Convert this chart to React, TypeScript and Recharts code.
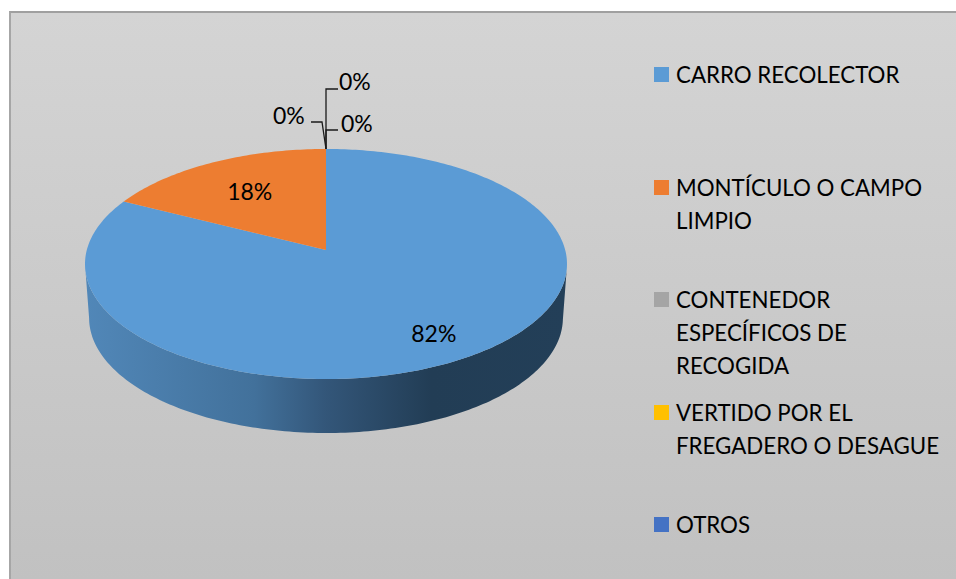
import { PieChart, Pie, Legend } from "recharts";

const categories = [
  "CARRO RECOLECTOR",
  "MONTÍCULO O CAMPO LIMPIO",
  "CONTENEDOR ESPECÍFICOS DE RECOGIDA",
  "VERTIDO POR EL FREGADERO O DESAGUE",
  "OTROS",
];
const shares = [82.45, 17.55, 0, 0, 0];
const colors = ["#5b9bd5", "#ed7d31", "#a5a5a5", "#ffc000", "#4472c4"];

const tableData = categories.map((name, i) => ({ name, value: shares[i], fill: colors[i] }));

const FONT = "Lato, 'Open Sans', sans-serif";
const WIDTH = 956;
const HEIGHT = 579;

// fake 3D: the flat pie is tilted through a small perspective
const PERSPECTIVE = 0.1217;
const SQUASH = 0.4737;
const DEPTH = 54;
const FOOT_SCALE = 0.983;

const project = (cx: number, cy: number, r: number, deg: number, f = 1) => {
  const u = Math.cos((deg * Math.PI) / 180) * f;
  const v = Math.sin((deg * Math.PI) / 180) * f;
  const w = 1 + PERSPECTIVE * v;
  return { x: (r * u) / w, y: (-r * SQUASH * v) / w, cx, cy, v };
};

const TiltedSector = (props: any) => {
  const { cx, cy, outerRadius, startAngle, endAngle, fill } = props;
  if (startAngle === endAngle) return null;
  const steps = Math.ceil(Math.abs(endAngle - startAngle));
  const rim = [];
  for (let i = 0; i <= steps; i++) {
    rim.push(project(cx, cy, outerRadius, startAngle + ((endAngle - startAngle) * i) / steps));
  }
  const top = rim.map((p) => `${cx + p.x},${cy + p.y}`).join(" L");
  const front = rim.filter((p) => p.v < -PERSPECTIVE);
  let wall = "";
  if (front.length > 1) {
    const upper = front.map((p) => `${cx + p.x},${cy + p.y}`);
    const lower = [...front].reverse().map((p) => `${cx + p.x * FOOT_SCALE},${cy + p.y + DEPTH}`);
    wall = `M${upper.concat(lower).join(" L")}Z`;
  }
  return (
    <g>
      {wall && <path d={wall} fill="url(#pieWall)" />}
      <path d={`M${cx},${cy} L${top}Z`} fill={fill} />
    </g>
  );
};

const PieLabel = (props: any) => {
  const { cx, cy, outerRadius, midAngle, percent, index } = props;
  const text = `${Math.round(percent * 100)}%`;
  const common = { fontFamily: FONT, fontSize: 23, fill: "#000" };
  if (index < 2) {
    const p = project(cx, cy, outerRadius, midAngle, index === 0 ? 0.79 : 0.65);
    return (
      <text {...common} x={cx + p.x} y={cy + p.y} textAnchor="middle" dominantBaseline="central">
        {text}
      </text>
    );
  }
  const tip = project(cx, cy, outerRadius, midAngle);
  const tx = cx + tip.x;
  const ty = cy + tip.y;
  // the three empty slices share one spot, each leader goes its own way
  const leaders = [
    { d: `M${tx},${ty} V${ty - 60} H${tx + 12}`, x: tx + 13, y: ty - 68 },
    { d: `M${tx},${ty} L${tx - 4},${ty - 27} H${tx - 15}`, x: tx - 53, y: ty - 34 },
    { d: `M${tx},${ty} V${ty - 19} H${tx + 12}`, x: tx + 15, y: ty - 26 },
  ];
  const l = leaders[index - 2];
  return (
    <g>
      <path d={l.d} fill="none" stroke="#1a1a1a" strokeWidth={1.3} />
      <text {...common} x={l.x} y={l.y} dominantBaseline="central">
        {text}
      </text>
    </g>
  );
};

const LegendList = ({ payload }: any) => (
  <div style={{ fontFamily: FONT, fontSize: 22.3, lineHeight: "33px", color: "#000" }}>
    {(payload || []).map((item: any) => (
      <div key={item.value} style={{ height: 112.5, display: "flex" }}>
        <span
          style={{
            width: 15,
            height: 15,
            marginTop: 9,
            marginRight: 7,
            flex: "none",
            background: item.color,
          }}
        />
        <span style={{ width: 272 }}>{item.value}</span>
      </div>
    ))}
  </div>
);

export default function App() {
  return (
    <div
      style={{
        position: "absolute",
        left: 0,
        top: 0,
        width: WIDTH,
        height: HEIGHT,
        overflow: "hidden",
        background: "#fff",
      }}
    >
      <div
        style={{
          position: "absolute",
          left: 9,
          top: 11,
          right: 0,
          bottom: 0,
          boxSizing: "border-box",
          borderLeft: "2px solid #a6a6a6",
          borderTop: "2px solid #a0a0a0",
          background: "linear-gradient(#d4d4d4, #c1c1c1)",
        }}
      />
      <div style={{ position: "absolute", left: 0, top: 0 }}>
        <PieChart width={WIDTH} height={HEIGHT} margin={{ top: 0, right: 0, bottom: 0, left: 0 }}>
          <defs>
            <linearGradient id="pieWall" gradientUnits="userSpaceOnUse" x1={86} x2={566} y1={0} y2={0}>
              <stop offset="0" stopColor="#5187b8" />
              <stop offset="0.35" stopColor="#42719b" />
              <stop offset="0.5" stopColor="#335679" />
              <stop offset="0.72" stopColor="#223d55" />
              <stop offset="1" stopColor="#233f58" />
            </linearGradient>
          </defs>
          <Pie
            data={tableData}
            dataKey="value"
            nameKey="name"
            cx={326}
            cy={250}
            outerRadius={239.2}
            startAngle={90}
            endAngle={-270}
            stroke="none"
            shape={TiltedSector}
            label={PieLabel}
            labelLine={false}
            isAnimationActive={false}
          />
          <Legend
            content={LegendList}
            itemSorter={null}
            wrapperStyle={{ left: 654, top: 58, width: 300, bottom: "auto", right: "auto" }}
          />
        </PieChart>
      </div>
    </div>
  );
}
